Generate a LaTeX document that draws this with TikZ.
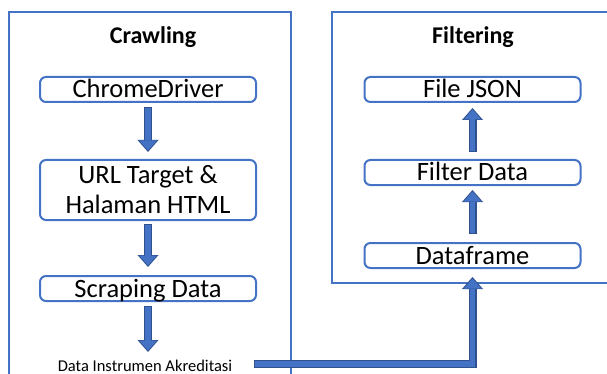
\documentclass[tikz,border=0pt]{standalone}
\usepackage{fontspec}
\setmainfont{Carlito}
\usetikzlibrary{arrows.meta}
\definecolor{frameblue}{HTML}{4472C4}
\definecolor{arrowfill}{HTML}{4472C4}
\definecolor{arrowedge}{HTML}{2F528F}
\tikzset{
  stage/.style={draw=frameblue,line width=2pt},
  stagetitle/.style={anchor=base,font=\fontsize{24}{28}\selectfont\bfseries},
  stepbox/.style={draw=frameblue,line width=2pt,rounded corners=6pt,minimum width=216pt,minimum height=25pt,inner sep=0pt,
    text height=17pt,text depth=0pt,align=center,font=\fontsize{26.5}{30}\selectfont},
  % two-layer block arrow: #1 = gap at the tail, #2 = gap at the tip
  blockarrow/.style 2 args={draw=arrowfill,line width=5.5pt,shorten <=#1+1.2pt,shorten >=#2+1.5pt,
    -{Triangle[width=17.5pt,length=10pt,line width=0pt]},
    preaction={draw=arrowedge,line width=8pt,shorten <=#1,shorten >=#2,
      -{Triangle[width=21pt,length=12pt,line width=0pt]}}}
}
\begin{document}
\begin{tikzpicture}[x=1pt,y=-1pt]
\useasboundingbox (0,0) rectangle (607,374);
\clip (0,0) rectangle (607,374);
% the two stages
\draw[stage] (9,12) rectangle (291,400);
\draw[stage] (332,12) rectangle (620,283);
\node[stagetitle] (crawl) at (153,44) {Crawling};
\node[stagetitle] (filter) at (473,44) {Filtering};
% crawling steps
\node[stepbox] (driver) at (148,89.5) {ChromeDriver};
\node[stepbox,minimum height=60pt,text height={},text depth={}] (url) at (148,190) {URL Target \&\\Halaman HTML};
\node[stepbox] (scrape) at (148,288.5) {Scraping Data};
\node[anchor=base,font=\fontsize{16.5}{20}\selectfont] (data) at (145,371) {Data Instrumen Akreditasi};
% filtering steps
\node[stepbox] (json) at (472.5,89.5) {File JSON};
\node[stepbox] (fdata) at (472.5,172.5) {Filter Data};
\node[stepbox] (frame) at (472.5,255.5) {Dataframe};
% arrows
\draw[blockarrow={4pt}{7pt}] (driver) -- (url);
\draw[blockarrow={3pt}{8pt}] (url) -- (scrape);
\draw[blockarrow={4pt}{4pt}] (scrape.south) -- (scrape.south |- data.north);
\draw[blockarrow={8pt}{4pt}] (frame) -- (fdata);
\draw[blockarrow={7pt}{5pt}] (fdata) -- (json);
\draw[blockarrow={18pt}{8pt}] ([yshift=1.5pt]data.east) -| (frame.south);
\end{tikzpicture}
\end{document}
